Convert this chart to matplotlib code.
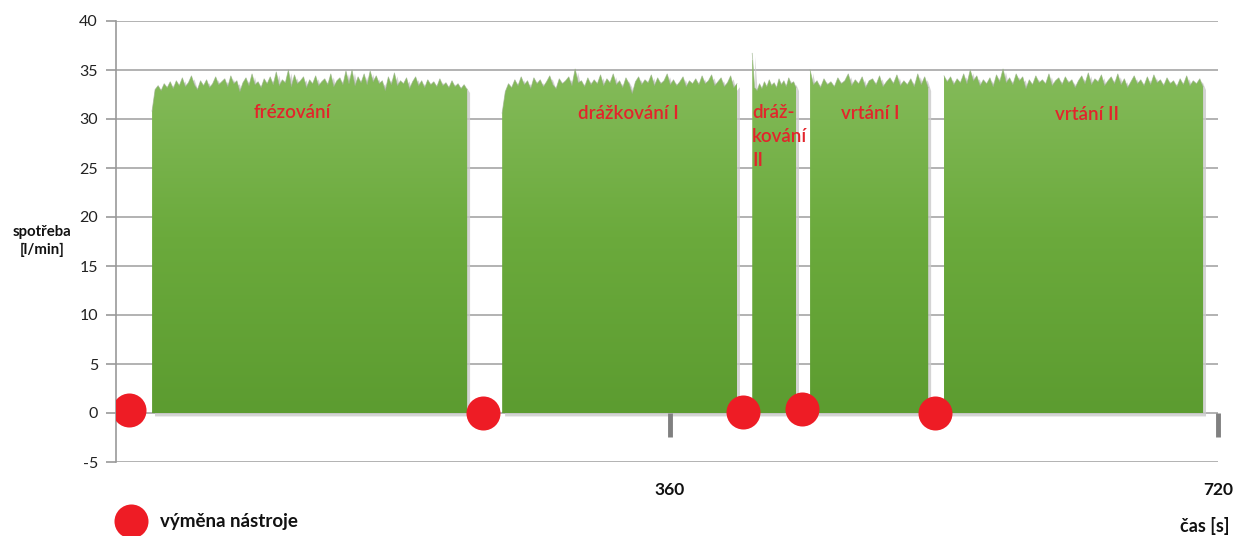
import numpy as np
import matplotlib
matplotlib.use("Agg")
import matplotlib.pyplot as plt
from matplotlib.colors import LinearSegmentedColormap

# ---------------- data ----------------
seg_names = ["frézování", "drážkování I", "dráž-\nkování\nII", "vrtání I", "vrtání II"]
seg_start = [19.7, 249.7, 414.0, 452.0, 540.0]
seg_end = [226.7, 404.0, 442.8, 529.6, 710.2]

seg1_vals = [30.8, 33.0, 33.4, 32.9, 33.6, 33.2, 33.8, 33.1, 33.9, 33.4, 34.2, 33.3, 33.7, 34.4, 33.5,
             33.0, 33.9, 33.4, 34.0, 33.2, 33.6, 34.3, 33.5, 33.8, 34.1, 33.3, 34.4, 33.6, 33.9, 32.8,
             33.7, 34.2, 33.4, 34.6, 33.5, 33.8, 33.2, 34.1, 33.6, 34.3, 33.5, 34.8, 33.4, 34.0, 33.7,
             35.0, 33.3, 34.5, 33.6, 33.9, 34.3, 33.2, 34.0, 33.6, 34.4, 33.4, 33.8, 34.1, 33.5, 34.6,
             33.3, 33.9, 34.2, 33.5, 34.9, 33.6, 35.0, 33.4, 34.3, 33.7, 34.6, 33.5, 34.9, 33.8, 34.4,
             33.6, 33.9, 32.9, 34.3, 33.5, 34.7, 33.4, 33.9, 33.6, 34.2, 33.1, 33.8, 34.3, 33.4, 33.9,
             33.2, 34.0, 33.5, 33.8, 33.3, 34.1, 33.4, 33.7, 33.2, 33.9, 33.3, 33.6, 33.1, 33.5, 33.0]
seg2_vals = [30.6, 32.8, 33.6, 33.2, 34.0, 33.4, 34.3, 33.5, 33.9, 33.1, 34.2, 33.6, 34.0, 33.3, 33.8,
             34.4, 33.5, 33.1, 34.1, 33.6, 33.9, 34.3, 33.4, 35.1, 33.7, 33.9, 33.3, 34.2, 33.5, 34.0,
             33.6, 34.5, 33.4, 34.1, 33.7, 34.6, 33.5, 33.9, 33.2, 34.2, 33.6, 32.6, 33.8, 34.3, 33.5,
             34.0, 33.7, 34.5, 33.4, 34.2, 33.6, 33.9, 34.6, 33.5, 34.0, 33.4, 33.8, 34.3, 33.3, 33.9,
             33.6, 34.1, 33.5, 34.4, 33.6, 33.9, 34.5, 33.4, 33.8, 34.2, 33.3, 33.7, 34.4, 33.2, 33.6]
seg3_vals = [36.7, 33.2, 32.9, 33.6, 33.1, 33.8, 33.3, 34.0, 33.4, 33.7, 33.2, 34.1, 33.5, 33.9, 33.3,
             34.2, 33.6, 33.8, 33.2]
seg4_vals = [35.0, 33.5, 33.9, 33.2, 34.1, 33.5, 33.8, 33.3, 34.2, 33.6, 33.9, 34.6, 33.4, 34.0, 33.6,
             34.3, 33.2, 33.9, 34.1, 33.5, 34.4, 33.3, 33.8, 34.2, 33.6, 34.5, 33.4, 33.9, 33.5, 34.1,
             33.3, 34.6, 33.5, 34.3, 33.2]
seg5_vals = [34.4, 33.8, 34.3, 33.5, 34.1, 33.7, 34.6, 33.6, 35.0, 33.9, 34.4, 33.4, 34.0, 33.6, 34.2,
             33.3, 34.5, 33.8, 35.1, 33.7, 34.2, 33.5, 34.6, 33.9, 34.3, 33.1, 34.0, 33.5, 34.4, 33.7,
             34.0, 33.6, 34.6, 33.4, 33.9, 34.2, 33.5, 34.3, 33.7, 34.0, 33.2, 33.9, 34.4, 33.6, 34.7,
             33.5, 34.1, 33.8, 34.5, 33.4, 33.9, 34.3, 33.6, 34.6, 33.5, 34.1, 33.2, 33.8, 34.4, 33.6,
             34.0, 33.4, 34.3, 33.5, 34.5, 33.7, 34.0, 33.4, 34.2, 33.6, 33.9, 33.3, 34.1, 33.5, 34.4,
             33.4, 33.9, 33.6, 34.1, 33.3]
seg_vals = [seg1_vals, seg2_vals, seg3_vals, seg4_vals, seg5_vals]

label_x = [111.7, 332.5, 414.0, 491.5, 634.0]
label_y = [30.7, 30.6, 31.5, 30.6, 30.5]

tool_change_t = [4.6, 237.2, 408.0, 446.8, 534.2]
tool_change_y = [0.3, 0.0, 0.1, 0.4, 0.0]

y_ticks = [-5, 0, 5, 10, 15, 20, 25, 30, 35, 40]
x_ticks = [360, 720]

# ---------------- figure ----------------
plt.rcParams['font.family'] = ['Lato', 'DejaVu Sans']
fig = plt.figure(figsize=(12.34, 5.36), dpi=100)
ax = fig.add_axes([116 / 1234, 74 / 536, 1102 / 1234, 441 / 536])
ax.set_xlim(-4, 720)
ax.set_ylim(-5, 40)

grid_c = "#A6A6A6"
for yv in y_ticks:
    ax.axhline(yv, color=grid_c, lw=1.2, zorder=1)

cmap = LinearSegmentedColormap.from_list("g", ["#5C9C30", "#6BAA3C", "#86BC5C"])
grad = np.linspace(0, 1, 256).reshape(-1, 1)

for s, e, vals in zip(seg_start, seg_end, seg_vals):
    t = np.linspace(s, e, len(vals))
    tt = np.concatenate([[s], t, [e]])
    vv = np.concatenate([[0], vals, [0]])
    # soft shadow
    ax.fill_between(tt + 1.6, vv - 0.3, -0.3, color="#CACACA", lw=0, zorder=2, alpha=0.8)
    poly = ax.fill_between(tt, vv, 0, color="none", lw=0, zorder=3)
    im = ax.imshow(grad, cmap=cmap, origin="lower", aspect="auto",
                   extent=[s, e, 0, 36], zorder=3, interpolation="bilinear")
    im.set_clip_path(poly.get_paths()[0], transform=ax.transData)
    ax.plot(tt[1:-1], vv[1:-1], color="#98B088", lw=0.6, zorder=3.5, alpha=0.7)

ax.set_xlim(-4, 720)
ax.set_ylim(-5, 40)

# segment labels
red = "#E3242B"
for nm, lx, ly in zip(seg_names, label_x, label_y):
    if "\n" in nm:
        ax.text(lx, ly, nm, color=red, fontsize=13.5, ha="left", va="top",
                linespacing=1.5, zorder=6, fontweight="semibold")
    else:
        ax.text(lx, ly, nm, color=red, fontsize=13.5, ha="center", va="center",
                zorder=6, fontweight="semibold")

# tool change dots
ax.scatter(tool_change_t, tool_change_y, s=600, color="#EE1C25", zorder=7, lw=0)

# spines and ticks
for sp in ["top", "right", "bottom"]:
    ax.spines[sp].set_visible(False)
ax.spines["left"].set_color("#999999")
ax.spines["left"].set_linewidth(1.2)
ax.set_yticks(y_ticks)
ax.set_yticklabels([str(v) for v in y_ticks], fontsize=11.5, color="#222222")
ax.tick_params(axis="y", length=7, width=1.2, color="#999999", pad=6)
ax.set_xticks([])

# x ticks drawn at the y=0 axis
for xv in x_ticks:
    ax.plot([xv, xv], [0, -2.4], color="#808080", lw=3.5, zorder=5, solid_capstyle="butt",
            clip_on=False)
    ax.text(xv, -7.9, str(xv), fontsize=12.5, fontweight="bold", ha="center", va="center",
            color="#111111", clip_on=False)

# axis labels
fig.text(42 / 1234, 1 - 241 / 536, "spotřeba\n[l/min]", fontsize=10.8, fontweight="bold",
         ha="center", va="center", color="#111111", linespacing=1.35)
fig.text(1205 / 1234, 1 - 526 / 536, "čas [s]", fontsize=13, fontweight="bold",
         ha="center", va="center", color="#111111")

# legend
lax = fig.add_axes([0, 0, 1, 1], facecolor="none")
lax.set_xlim(0, 1234)
lax.set_ylim(536, 0)
lax.axis("off")
lax.scatter([131], [521], s=600, color="#EE1C25", lw=0)
lax.text(160, 522, "výměna nástroje", fontsize=13.5, fontweight="bold", ha="left",
         va="center", color="#111111")

fig.savefig("out.png", dpi=100)
